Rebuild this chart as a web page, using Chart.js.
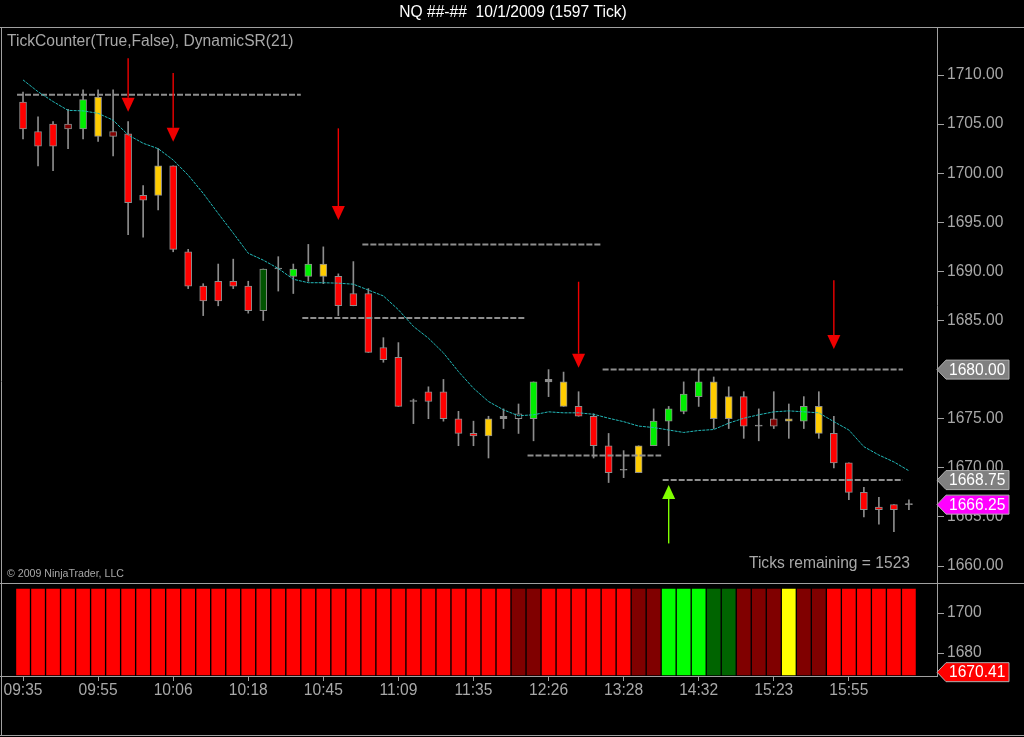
<!DOCTYPE html>
<html><head><meta charset="utf-8">
<script src="https://cdn.jsdelivr.net/npm/chart.js@4.4.0/dist/chart.umd.min.js"></script>
<style>html,body{margin:0;padding:0;background:#000;overflow:hidden}canvas{display:block}</style>
</head><body>
<canvas id="c" width="1024" height="737"></canvas>
<script>
const chartTitle = 'NQ ##-##  10/1/2009 (1597 Tick)';
const indicatorText = 'TickCounter(True,False), DynamicSR(21)';
const ticksRemainingText = 'Ticks remaining = 1523';
const copyrightText = '\u00A9 2009 NinjaTrader, LLC';

const timeLabels = ['09:35','09:55','10:06','10:18','10:45','11:09','11:35','12:26','13:28','14:32','15:23','15:55'];
const timeLabelEvery = 5;
const priceTicks = [1660,1665,1670,1675,1680,1685,1690,1695,1700,1705,1710];
const panelTicks = [1680,1700];

const openP = [1707.25,1704.25,1705.0,1705.0,1704.5,1707.75,1704.25,1704.0,1697.75,1697.75,
1700.75,1692.0,1688.5,1689.0,1689.0,1688.5,1686.0,1690.25,1689.5,1689.5,
1690.75,1689.5,1687.75,1687.75,1682.25,1681.25,1676.75,1677.75,1677.75,1675.0,
1673.5,1673.25,1675.25,1675.0,1675.0,1678.75,1678.75,1676.25,1675.25,1672.25,
1669.75,1669.5,1672.25,1674.75,1675.75,1677.25,1678.75,1677.25,1677.25,1674.25,
1675.0,1674.75,1674.75,1676.25,1673.5,1670.5,1667.5,1666.0,1666.25,1666.25];
const closeP = [1704.5,1702.75,1702.75,1704.5,1707.5,1703.75,1703.75,1697.0,1697.25,1700.75,
1692.25,1688.5,1687.0,1687.0,1688.5,1686.0,1690.25,1690.25,1690.25,1690.75,
1689.5,1686.5,1686.5,1681.75,1681.0,1676.25,1676.75,1676.75,1675.0,1673.5,
1673.25,1675.0,1675.0,1675.5,1678.75,1679.0,1676.25,1675.25,1672.25,1669.5,
1669.75,1672.25,1674.75,1676.0,1677.5,1678.75,1675.0,1675.0,1674.25,1674.25,
1674.25,1675.0,1676.25,1673.5,1670.5,1667.5,1665.75,1665.75,1665.75,1666.25];
const highP = [1708.25,1705.75,1705.25,1706.5,1708.5,1708.5,1708.5,1705.25,1698.75,1702.5,
1700.75,1692.25,1688.75,1690.75,1691.25,1689.0,1690.25,1691.5,1690.75,1692.75,
1692.5,1689.75,1691.0,1688.25,1683.25,1682.75,1677.0,1678.25,1679.0,1675.75,
1674.75,1675.25,1676.0,1676.5,1678.75,1680.0,1679.75,1677.75,1675.5,1673.5,
1671.75,1672.25,1676.0,1676.25,1678.75,1680.0,1679.25,1678.25,1677.75,1676.0,
1677.75,1676.5,1677.25,1677.75,1675.25,1670.5,1668.0,1667.0,1666.25,1666.75];
const lowP = [1703.5,1700.75,1700.25,1702.5,1703.5,1703.25,1701.75,1693.75,1693.5,1696.25,
1692.0,1688.25,1685.5,1686.5,1688.25,1685.75,1685.0,1688.0,1687.75,1689.0,
1688.75,1685.5,1686.5,1681.75,1680.75,1676.25,1674.5,1675.0,1674.75,1672.25,
1672.25,1671.0,1674.0,1673.5,1672.75,1677.25,1676.25,1675.25,1671.0,1668.5,
1669.0,1669.5,1672.25,1672.25,1675.5,1676.25,1674.0,1674.0,1673.0,1672.75,
1674.0,1673.0,1674.0,1673.0,1670.0,1666.75,1665.0,1664.25,1663.5,1665.75];
const bodyColorCode = ['R','R','R','DR','G','Y','DR','R','R','Y',
'R','R','R','R','R','R','DG','D','G','G',
'Y','R','R','R','R','R','D','R','R','R',
'R','Y','D','N','G','D','Y','R','R','R',
'D','Y','G','G','G','G','Y','Y','R','D',
'DR','Y','G','Y','R','R','R','R','R','D'];
const emaValues = [1709.5,1708.3,1707.3,1706.4,1706.35,1706.1,1705.4,1703.9,1703.05,1702.5,
1701.35,1699.8,1697.95,1695.9,1693.9,1691.85,1691.15,1690.3,1689.2,1688.85,
1688.85,1688.8,1688.7,1688.1,1687.5,1686.1,1684.4,1683.2,1681.7,1679.8,
1678.1,1676.75,1675.9,1675.3,1675.4,1675.7,1675.6,1675.6,1675.45,1675.05,
1674.7,1674.25,1674.1,1673.85,1673.6,1673.8,1673.9,1674.55,1675.05,1675.4,
1675.7,1675.8,1675.7,1675.6,1674.7,1673.85,1672.15,1671.3,1670.6,1669.7];

const srLevels = [1708, 1692.75, 1685.25, 1680, 1671.25, 1668.75];
const srFrom = [-0.4, 22.6, 18.6, 38.6, 33.6, 42.6];
const srTo = [18.5, 38.5, 33.5, 58.6, 42.5, 58.6];

const sellArrowBar = [7, 10, 21, 37, 54];
const sellArrowTail = [1711.7, 1710.2, 1704.57, 1688.95, 1689.1];
const sellArrowTip = [1706.27, 1703.2, 1695.23, 1680.2, 1682.1];
const buyArrowBar = [43];
const buyArrowTail = [1662.3];
const buyArrowTip = [1668.25];

const counterColorCode = ['R','R','R','R','R','R','R','R','R','R',
'R','R','R','R','R','R','R','R','R','R',
'R','R','R','R','R','R','R','R','R','R',
'R','R','R','DR','DR','R','R','R','R','R',
'R','DR','DR','G','G','G','DG','DG','DR','DR',
'DR','Y','DR','DR','R','R','R','R','R','R'];
const counterBarBase = 1669;
const counterBarTop = 1712;

const priceMarkers = [1680.00, 1668.75, 1666.25];
const priceMarkerKind = ['level', 'level', 'last'];
const panelMarker = 1670.41;

const xMin = -1.4, xMax = 60.87;
const yMin = 1658.27, yMax = 1714.89;
const panelMin = 1668.5, panelMax = 1715;

const candleFill = {R:'#ff0000', DR:'#800000', G:'#00ee00', DG:'#005400', Y:'#ffcc00', D:'#8c8c8c', N:'#000000'};
const counterFill = {R:'#ff0000', DR:'#800000', G:'#00ff00', DG:'#006400', Y:'#ffff00'};
const markerFill = {level:'#808080', last:'#ff00ff'};

const FONT = '"Liberation Sans", Arial, sans-serif';
const GRAY = '#a8a8a8';
Chart.defaults.font.family = FONT;
Chart.defaults.color = GRAY;

const idx = openP.map((_, i) => i);

const datasets = [];
datasets.push({
  type: 'bar', label: 'wick', yAxisID: 'y', order: 5, grouped: false,
  data: idx.map(i => ({x: i, y: [lowP[i], highP[i]]})),
  backgroundColor: '#8c8c8c', borderWidth: 0, maxBarThickness: 1,
  barPercentage: 1, categoryPercentage: 1
});
datasets.push({
  type: 'bar', label: 'body', yAxisID: 'y', order: 4, grouped: false,
  data: idx.map(i => ({x: i, y: [openP[i], closeP[i]]})),
  backgroundColor: bodyColorCode.map(c => candleFill[c]),
  borderColor: '#8c8c8c', borderWidth: 1, borderSkipped: false,
  maxBarThickness: 7, minBarLength: 1, barPercentage: 1, categoryPercentage: 1
});
datasets.push({
  type: 'bar', label: 'TickCounter', yAxisID: 'y2', order: 4, grouped: false,
  data: idx.map(i => ({x: i, y: [counterBarBase, counterBarTop]})),
  backgroundColor: counterColorCode.map(c => counterFill[c]),
  borderWidth: 0, maxBarThickness: 13, barPercentage: 1, categoryPercentage: 1
});
srLevels.forEach((v, k) => {
  datasets.push({
    type: 'line', label: 'SR' + k, yAxisID: 'y', order: 3,
    data: [{x: srFrom[k], y: v}, {x: srTo[k], y: v}],
    borderColor: '#8e8e8e', borderWidth: 2, borderDash: [6, 2],
    pointRadius: 0, fill: false
  });
});
datasets.push({
  type: 'line', label: 'DynamicSR', yAxisID: 'y', order: 1,
  data: idx.map(i => ({x: i, y: emaValues[i]})),
  borderColor: '#22b8b8', borderWidth: 1, borderDash: [3, 1],
  pointRadius: 0, fill: false, tension: 0
});

function drawArrow(ctx, x, yTail, yTip, color) {
  const dir = yTip > yTail ? 1 : -1;
  const headH = 14, headW = 6.5;
  const base = yTip - dir * headH;
  ctx.save();
  ctx.strokeStyle = color; ctx.lineWidth = 1.4;
  ctx.beginPath(); ctx.moveTo(x, yTail); ctx.lineTo(x, base); ctx.stroke();
  ctx.fillStyle = color;
  ctx.beginPath(); ctx.moveTo(x - headW, base); ctx.lineTo(x + headW, base); ctx.lineTo(x, yTip); ctx.closePath(); ctx.fill();
  ctx.restore();
}

function drawMarker(ctx, x0, yPix, text, fill, stroke) {
  const x1 = x0 + 9, x2 = x0 + 72, h = 19;
  ctx.save();
  ctx.beginPath();
  ctx.moveTo(x0, yPix); ctx.lineTo(x1, yPix - h / 2); ctx.lineTo(x2, yPix - h / 2);
  ctx.lineTo(x2, yPix + h / 2); ctx.lineTo(x1, yPix + h / 2); ctx.closePath();
  ctx.fillStyle = fill; ctx.fill();
  ctx.strokeStyle = stroke; ctx.lineWidth = 1; ctx.stroke();
  ctx.fillStyle = '#ffffff'; ctx.font = '15.6px ' + FONT;
  ctx.textAlign = 'left'; ctx.textBaseline = 'middle';
  ctx.fillText(text, x1 + 3, yPix + 1);
  ctx.restore();
}

const overlay = {
  id: 'ninjaOverlay',
  afterDatasetsDraw(chart) {
    const ctx = chart.ctx, xs = chart.scales.x, ys = chart.scales.y;
    sellArrowBar.forEach((b, k) => drawArrow(ctx, xs.getPixelForValue(b), ys.getPixelForValue(sellArrowTail[k]), ys.getPixelForValue(sellArrowTip[k]), '#f00000'));
    buyArrowBar.forEach((b, k) => drawArrow(ctx, xs.getPixelForValue(b), ys.getPixelForValue(buyArrowTail[k]), ys.getPixelForValue(buyArrowTip[k]), '#80ff00'));
  },
  afterDraw(chart) {
    const ctx = chart.ctx, ca = chart.chartArea, ys = chart.scales.y, y2 = chart.scales.y2;
    const W = chart.width, H = chart.height;
    ctx.save();
    ctx.strokeStyle = '#a0a0a0'; ctx.lineWidth = 1;
    ctx.beginPath();
    ctx.moveTo(0, ca.top + 0.5); ctx.lineTo(W, ca.top + 0.5);
    ctx.moveTo(0, Math.round(y2.top) + 0.5); ctx.lineTo(W, Math.round(y2.top) + 0.5);
    ctx.moveTo(0, H - 1.5); ctx.lineTo(W, H - 1.5);
    ctx.moveTo(1.5, ca.top); ctx.lineTo(1.5, H - 1);
    ctx.moveTo(0, ca.bottom + 0.5); ctx.lineTo(ca.left, ca.bottom + 0.5);
    ctx.stroke();
    ctx.fillStyle = GRAY; ctx.textBaseline = 'middle';
    ctx.font = '15.6px ' + FONT; ctx.textAlign = 'left';
    ctx.fillText(indicatorText, ca.left + 5, ca.top + 15);
    ctx.textAlign = 'right';
    ctx.fillText(ticksRemainingText, ca.right - 27, ys.bottom - 19);
    ctx.font = '10.6px ' + FONT; ctx.textAlign = 'left';
    ctx.fillText(copyrightText, ca.left + 5, ys.bottom - 9);
    ctx.restore();
    priceMarkers.forEach((v, k) => {
      drawMarker(ctx, ca.right, ys.getPixelForValue(v), v.toFixed(2), markerFill[priceMarkerKind[k]], '#b0b0b0');
    });
    drawMarker(ctx, ca.right, y2.getPixelForValue(panelMarker), panelMarker.toFixed(2), '#ff0000', '#b0b0b0');
  }
};

new Chart(document.getElementById('c'), {
  type: 'bar',
  data: { datasets },
  plugins: [overlay],
  options: {
    responsive: false, animation: false, devicePixelRatio: 1, events: [],
    layout: { padding: { left: 2, right: 0, top: 0, bottom: 0 } },
    plugins: {
      legend: { display: false }, tooltip: { enabled: false },
      title: { display: true, text: chartTitle, color: '#ffffff',
        font: { size: 15.6, weight: 'normal', family: FONT }, padding: { top: 3, bottom: 5.28 } }
    },
    scales: {
      x: {
        type: 'linear', min: xMin, max: xMax, offset: false,
        grid: { drawOnChartArea: false, drawTicks: true, tickLength: 5, color: '#a0a0a0', offset: false },
        border: { color: '#a0a0a0' },
        ticks: { color: GRAY, font: { size: 15.6 }, padding: 0, maxRotation: 0, autoSkip: false,
          callback: v => timeLabels[Math.round(v / timeLabelEvery)] },
        afterBuildTicks: s => { s.ticks = timeLabels.map((_, k) => ({ value: k * timeLabelEvery })); },
        afterFit: s => { s.height = 61; s.paddingLeft = 0; s.paddingRight = 0; }
      },
      y: {
        type: 'linear', position: 'right', stack: 'panes', stackWeight: 556,
        min: yMin, max: yMax, beginAtZero: false,
        grid: { drawOnChartArea: false, drawTicks: true, tickLength: 7, color: '#a0a0a0' },
        border: { color: '#a0a0a0' },
        ticks: { color: GRAY, font: { size: 15.6 }, padding: 3, callback: v => Number(v).toFixed(2) },
        afterBuildTicks: s => { s.ticks = priceTicks.map(v => ({ value: v })); },
        afterFit: s => { s.width = 87; s.paddingTop = 0; s.paddingBottom = 0; }
      },
      y2: {
        type: 'linear', position: 'right', stack: 'panes', stackWeight: 93,
        min: panelMin, max: panelMax, beginAtZero: false,
        grid: { drawOnChartArea: false, drawTicks: true, tickLength: 7, color: '#a0a0a0' },
        border: { color: '#a0a0a0' },
        ticks: { color: GRAY, font: { size: 15.6 }, padding: 3, callback: v => Number(v).toFixed(0) },
        afterBuildTicks: s => { s.ticks = panelTicks.map(v => ({ value: v })); },
        afterFit: s => { s.width = 87; s.paddingTop = 0; s.paddingBottom = 0; }
      }
    }
  }
});
</script>
</body></html>
